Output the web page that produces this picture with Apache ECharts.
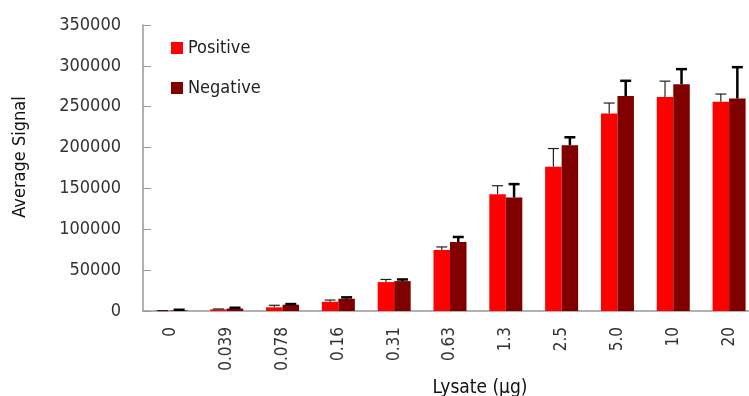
<!DOCTYPE html>
<html>
<head>
<meta charset="utf-8">
<script src="https://cdn.jsdelivr.net/npm/echarts@6/dist/echarts.min.js"></script>
<style>
  html, body { margin: 0; padding: 0; background: #fff; }
  #main { width: 749px; height: 396px; }
</style>
</head>
<body>
<div id="main"></div>
<script>
// 数据
const categories = ['0', '0.039', '0.078', '0.16', '0.31', '0.63', '1.3', '2.5', '5.0', '10', '20'];
const positive = [300, 2000, 4500, 11300, 35400, 74800, 143000, 176400, 241800, 261800, 256100];
const positiveErr = [200, 500, 2500, 2100, 3200, 3600, 10300, 22400, 12700, 19500, 9400];
const negative = [800, 3000, 7700, 15000, 36600, 84500, 139000, 202800, 263000, 277600, 260100];
const negativeErr = [700, 1000, 800, 1700, 2000, 6100, 16300, 9800, 18700, 18400, 38300];
const yTicks = [0, 50000, 100000, 150000, 200000, 250000, 300000, 350000];

const FONT = '"DejaVu Sans Condensed", "Liberation Sans Narrow", sans-serif';
const BAR_W = 16.5;

// 误差线
function errorSeries(values, errs, offset, width, color) {
    return {
        type: 'custom',
        z: 5,
        silent: true,
        data: values.map((v, i) => [i, v, v + errs[i]]),
        renderItem: function (params, api) {
            const base = api.coord([api.value(0), api.value(1)]);
            const top = api.coord([api.value(0), api.value(2)]);
            const x = base[0] + offset;
            const half = 5.5;
            return {
                type: 'group',
                children: [{
                    type: 'line',
                    shape: { x1: x, y1: base[1], x2: x, y2: top[1] },
                    style: { stroke: color, lineWidth: width }
                }, {
                    type: 'line',
                    shape: { x1: x - half, y1: top[1], x2: x + half, y2: top[1] },
                    style: { stroke: color, lineWidth: width }
                }]
            };
        }
    };
}

const myChart = echarts.init(document.getElementById('main'));
const option = {
    animation: false,
    textStyle: { fontFamily: FONT },
    grid: { left: 143, width: 614, top: 25, bottom: 85, outerBoundsMode: 'none' },
    legend: {
        orient: 'vertical',
        left: 166,
        top: 34,
        itemWidth: 12,
        itemHeight: 12,
        itemGap: 22,
        icon: 'rect',
        textStyle: { fontFamily: FONT, fontSize: 18, color: '#222' },
        data: ['Positive', 'Negative']
    },
    xAxis: {
        type: 'category',
        data: categories,
        name: 'Lysate (µg)',
        nameLocation: 'middle',
        nameGap: 63,
        nameTextStyle: { fontFamily: FONT, fontSize: 19, color: '#111', padding: [0, 0, 0, 60] },
        axisLine: { lineStyle: { color: '#999', width: 1.5 } },
        axisTick: { show: false },
        axisLabel: { rotate: 90, margin: 16, fontFamily: FONT, fontSize: 17, color: '#333' }
    },
    yAxis: {
        type: 'value',
        min: yTicks[0],
        max: yTicks[yTicks.length - 1],
        interval: 50000,
        name: 'Average Signal',
        nameLocation: 'middle',
        nameGap: 114,
        nameRotate: 90,
        nameTextStyle: { fontFamily: FONT, fontSize: 18, color: '#111', padding: [0, 0, 0, 22] },
        axisLine: { show: true, lineStyle: { color: '#999', width: 1.5 } },
        axisTick: { show: true, inside: true, length: 8, lineStyle: { color: '#999' } },
        axisLabel: {
            margin: 22, fontFamily: FONT, fontSize: 18, color: '#333',
            formatter: v => String(v)
        },
        splitLine: { show: false }
    },
    series: [{
        name: 'Positive',
        type: 'bar',
        data: positive,
        barWidth: BAR_W,
        barGap: '0%',
        itemStyle: { color: '#ff0000' }
    }, {
        name: 'Negative',
        type: 'bar',
        data: negative,
        barWidth: BAR_W,
        barGap: '0%',
        itemStyle: { color: '#800000' }
    },
    errorSeries(positive, positiveErr, -BAR_W / 2, 1.2, '#222'),
    errorSeries(negative, negativeErr, BAR_W / 2, 2.5, '#000')
    ]
};
myChart.setOption(option);
</script>
</body>
</html>
